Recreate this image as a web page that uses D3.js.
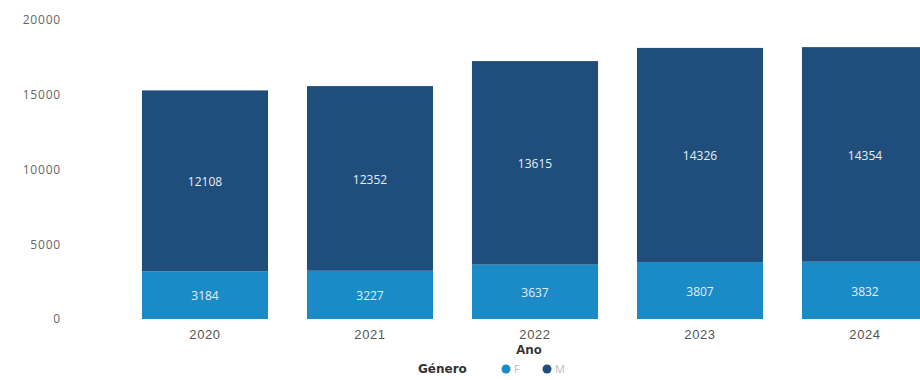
<!DOCTYPE html>
<html>
<head>
<meta charset="utf-8">
<script src="https://cdn.jsdelivr.net/npm/d3@7"></script>
<style>
  body { margin: 0; background: #fff; }
  svg { display: block; font-family: "Open Sans", "Noto Sans", sans-serif; }
</style>
</head>
<body>
<svg id="chart" width="920" height="380"></svg>
<script>
// chart data
const years = ["2020", "2021", "2022", "2023", "2024"];
const valuesF = [3184, 3227, 3637, 3807, 3832];
const valuesM = [12108, 12352, 13615, 14326, 14354];
const yTicks = [0, 5000, 10000, 15000, 20000];
const genders = ["F", "M"];

const colors = { F: "#1a8bc7", M: "#1f4e7d" };

const svg = d3.select("#chart");

const x = d3.scaleBand()
  .domain(years)
  .range([122.5, 947.5])
  .paddingInner(0.236)
  .paddingOuter(0.118);

const y = d3.scaleLinear()
  .domain([0, 20000])
  .range([319, 20]);

// y axis labels only
svg.append("g")
  .attr("class", "yAxis")
  .attr("transform", "translate(64,0)")
  .call(d3.axisLeft(y).tickValues(yTicks).tickFormat(d3.format("d")).tickSize(0))
  .call(g => g.select(".domain").remove())
  .call(g => g.selectAll("text")
    .attr("fill", "#666")
    .attr("font-size", 12)
    .attr("letter-spacing", 0.8)
    .attr("font-family", "\"Open Sans\", sans-serif"));

// stacked data
const rows = years.map((yr, i) => ({ year: yr, F: valuesF[i], M: valuesM[i] }));
const stacked = d3.stack().keys(genders)(rows);

const layer = svg.append("g")
  .selectAll("g")
  .data(stacked)
  .enter()
  .append("g")
  .attr("fill", d => colors[d.key]);

layer.selectAll("rect")
  .data(d => d)
  .enter()
  .append("rect")
  .attr("x", d => x(d.data.year))
  .attr("y", d => y(d[1]))
  .attr("width", x.bandwidth())
  .attr("height", d => y(d[0]) - y(d[1]));

layer.selectAll("text")
  .data(d => d)
  .enter()
  .append("text")
  .attr("x", d => x(d.data.year) + x.bandwidth() / 2)
  .attr("y", d => (y(d[0]) + y(d[1])) / 2 + 1)
  .attr("dy", "0.35em")
  .attr("text-anchor", "middle")
  .attr("fill", "#e8eef4")
  .attr("font-size", 12)
  .text(d => d[1] - d[0]);

// x axis labels
svg.append("g")
  .attr("class", "xAxis")
  .attr("transform", "translate(0,324)")
  .call(d3.axisBottom(x).tickSize(0))
  .call(g => g.select(".domain").remove())
  .call(g => g.selectAll("text")
    .attr("fill", "#555")
    .attr("font-size", 13)
    .attr("letter-spacing", 0.6)
    .attr("dy", "0.9em"));

// axis title
svg.append("text")
  .attr("x", 529)
  .attr("y", 354)
  .attr("text-anchor", "middle")
  .attr("font-size", 13)
  .attr("font-weight", "bold")
  .attr("fill", "#333")
  .text("Ano");

// legend
const legend = svg.append("g").attr("transform", "translate(418,373)");
legend.append("text")
  .attr("x", 0)
  .attr("y", 0)
  .attr("font-size", 12)
  .attr("font-weight", "bold")
  .attr("font-family", "\"DejaVu Sans\", sans-serif")
  .attr("fill", "#333")
  .text("Género");

const items = legend.selectAll(".item")
  .data(genders)
  .enter()
  .append("g")
  .attr("class", "item")
  .attr("transform", (d, i) => `translate(${88 + i * 41},0)`);

items.append("circle")
  .attr("cx", 0)
  .attr("cy", -4)
  .attr("r", 4.5)
  .attr("fill", d => colors[d]);

items.append("text")
  .attr("x", 8)
  .attr("y", 0)
  .attr("font-size", 11)
  .attr("fill", "#bbb")
  .text(d => d);
</script>
</body>
</html>
